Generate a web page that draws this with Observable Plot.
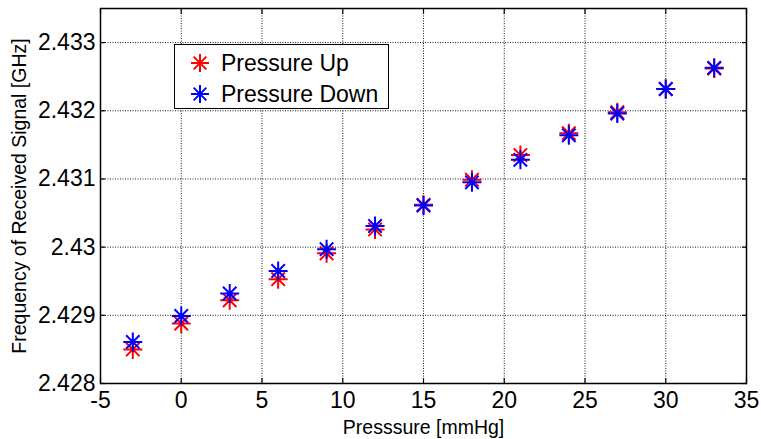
<!DOCTYPE html>
<html>
<head>
<meta charset="utf-8">
<script src="https://cdn.jsdelivr.net/npm/d3@7"></script>
<script src="https://cdn.jsdelivr.net/npm/@observablehq/plot@0.6"></script>
<style>
  html, body { margin: 0; padding: 0; background: #fff; }
  #wrap { position: relative; width: 761px; height: 439px; font-family: "Liberation Sans", Arial, sans-serif; }
  #legend { position: absolute; left: 174px; top: 44px; width: 213px; height: 63px; border: 1.5px solid #000; background: #fff; }
  .item { position: absolute; left: 0; height: 30px; display: flex; align-items: center; font-size: 23px; color: #000; white-space: nowrap; }
  .item svg { margin-left: 15px; margin-right: 11px; }
</style>
</head>
<body>
<div id="wrap"><div id="legend"></div></div>
<script>
const pressure = [-3, 0, 3, 6, 9, 12, 15, 18, 21, 24, 27, 30, 33];
const freqUp   = [2.42850, 2.42888, 2.42922, 2.42953, 2.42991, 2.43026, 2.43062, 2.43099, 2.43135, 2.43167, 2.43198, 2.43232, 2.43262];
const freqDown = [2.42861, 2.42899, 2.42932, 2.42965, 2.42997, 2.43031, 2.43061, 2.43095, 2.43128, 2.43164, 2.43196, 2.43232, 2.43263];
const xTicks = [-5, 0, 5, 10, 15, 20, 25, 30, 35];
const yTicks = [2.428, 2.429, 2.430, 2.431, 2.432, 2.433];
const seriesNames = ["Pressure Up", "Pressure Down"];
const seriesColors = ["#ff0000", "#0000ff"];

const up = pressure.map((p, i) => ({p, f: freqUp[i]}));
const down = pressure.map((p, i) => ({p, f: freqDown[i]}));

// 8-armed asterisk (MATLAB style '*')
const star8 = {
  draw(ctx, size) {
    const r = Math.sqrt(size / Math.PI);
    const d = r / Math.SQRT2;
    ctx.moveTo(-r, 0); ctx.lineTo(r, 0);
    ctx.moveTo(0, -r); ctx.lineTo(0, r);
    ctx.moveTo(-d, -d); ctx.lineTo(d, d);
    ctx.moveTo(-d, d); ctx.lineTo(d, -d);
  }
};

const fmtY = d => String(+d.toFixed(3));
const font = '"Liberation Sans", Arial, sans-serif';

const chart = Plot.plot({
  width: 761,
  height: 439,
  marginLeft: 100,
  marginRight: 15,
  marginTop: 8,
  marginBottom: 56,
  style: {fontFamily: font, background: "#fff", color: "#000"},
  x: {domain: [-5, 35], ticks: xTicks},
  y: {domain: [2.428, 2.4335], ticks: yTicks},
  marks: [
    Plot.gridX(xTicks, {stroke: "#000", strokeOpacity: 0.9, strokeDasharray: "1,1.5", strokeWidth: 1}),
    Plot.gridY(yTicks, {stroke: "#000", strokeOpacity: 0.9, strokeDasharray: "1,1.5", strokeWidth: 1}),
    Plot.axisX(xTicks, {anchor: "bottom", tickSize: 0, tickPadding: 8, fontSize: 23, label: "Presssure [mmHg]", labelAnchor: "center", labelArrow: "none", labelOffset: 50, tickFormat: d => String(d)}),
    Plot.axisX(xTicks, {anchor: "bottom", tickSize: -5, tickFormat: () => "", label: null, strokeWidth: 1.2}),
    Plot.axisX(xTicks, {anchor: "top", tickSize: -5, tickFormat: () => "", label: null, strokeWidth: 1.2}),
    Plot.axisY(yTicks, {anchor: "left", tickSize: 0, tickPadding: 5, fontSize: 23, tickFormat: fmtY, label: "Frequency of Received Signal [GHz]", labelAnchor: "center", labelArrow: "none", labelOffset: 88}),
    Plot.axisY(yTicks, {anchor: "left", tickSize: -5, tickFormat: () => "", label: null, strokeWidth: 1.2}),
    Plot.axisY(yTicks, {anchor: "right", tickSize: -5, tickFormat: () => "", label: null, strokeWidth: 1.2}),
    Plot.frame({stroke: "#000", strokeWidth: 1.5}),
    Plot.dot(up, {x: "p", y: "f", symbol: star8, r: 9.5, stroke: seriesColors[0], strokeWidth: 2, fill: "none"}),
    Plot.dot(down, {x: "p", y: "f", symbol: star8, r: 9.5, stroke: seriesColors[1], strokeWidth: 2, fill: "none"})
  ]
});

// style axis labels
chart.querySelectorAll("g[aria-label='x-axis label'] text, g[aria-label='y-axis label'] text").forEach(t => t.setAttribute("font-size", 19.5));

const wrap = document.getElementById("wrap");
wrap.insertBefore(chart, wrap.firstChild);

const legend = document.getElementById("legend");
seriesNames.forEach((name, i) => {
  const item = document.createElement("div");
  item.className = "item";
  item.style.top = (3 + i * 31) + "px";
  const svg = d3.create("svg").attr("width", 20).attr("height", 20).attr("viewBox", "-10 -10 20 20");
  const r = 9, d = r / Math.SQRT2;
  svg.append("path")
    .attr("d", `M${-r},0L${r},0M0,${-r}L0,${r}M${-d},${-d}L${d},${d}M${-d},${d}L${d},${-d}`)
    .attr("stroke", seriesColors[i]).attr("stroke-width", 2).attr("fill", "none");
  item.appendChild(svg.node());
  const span = document.createElement("span");
  span.textContent = name;
  item.appendChild(span);
  legend.appendChild(item);
});
</script>
</body>
</html>
